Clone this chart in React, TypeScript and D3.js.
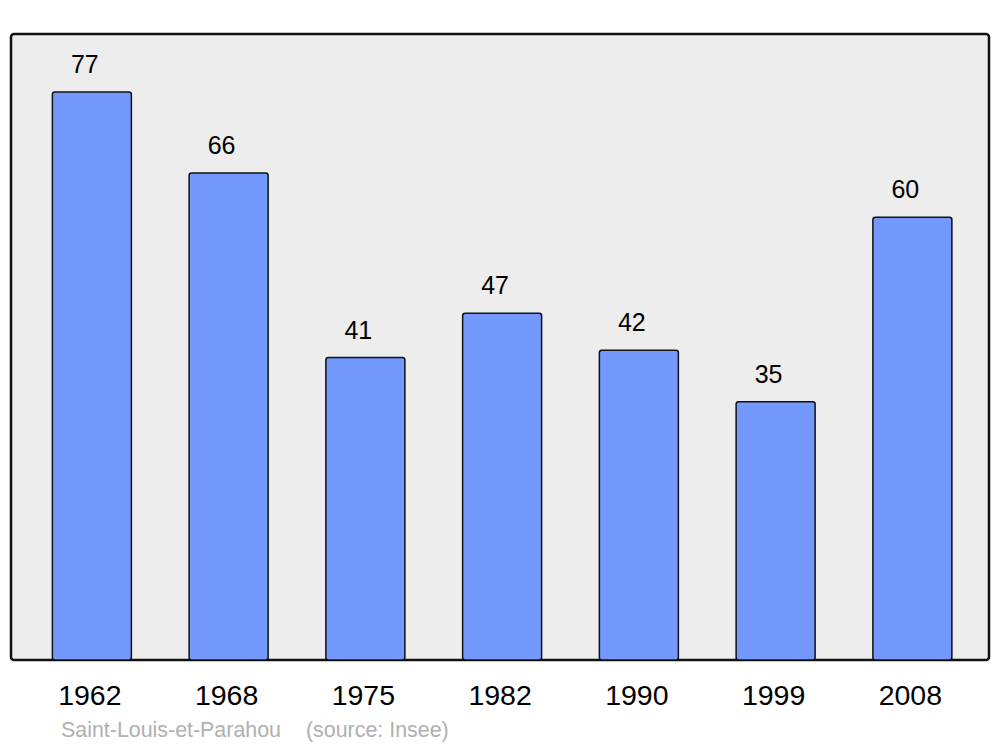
import React from "react";
import * as d3 from "d3";

const years = ["1962", "1968", "1975", "1982", "1990", "1999", "2008"];
const population = [77, 66, 41, 47, 42, 35, 60];
const yMax = 84.85;
const commune = "Saint-Louis-et-Parahou";
const source = "(source: Insee)";

export default function App() {
  const W = 1000, H = 747;
  const left = 11, right = 989, top = 34, bottom = 660;
  const x = d3.scaleBand<string>().domain(years).range([23.5, 980.75]).padding(0);
  const y = d3.scaleLinear().domain([0, yMax]).range([bottom, top]);
  const bw = 79;
  return (
    <svg width={W} height={H} style={{ position: "absolute", left: 0, top: 0 }} fontFamily="Liberation Sans, Arial, sans-serif">
      <rect x={0} y={0} width={W} height={H} fill="#ffffff" />
      <rect x={left} y={top} width={right - left} height={bottom - top} fill="#ededed" stroke="#111" strokeWidth={2.5} rx={3} />
      {years.map((yr, i) => {
        const cx = (x(yr) as number) + x.bandwidth() / 2;
        const yt = y(population[i]);
        return (
          <g key={yr}>
            <rect x={cx - bw / 2} y={yt} width={bw} height={bottom - yt} fill="#7399ff" stroke="#111" strokeWidth={1.5} rx={2.5} />
            <text x={cx - 7} y={yt - 19} textAnchor="middle" fontSize={25} fill="#000">{population[i]}</text>
            <text x={cx - 2} y={705} textAnchor="middle" fontSize={28.5} fill="#000">{yr}</text>
          </g>
        );
      })}
      <text x={61} y={737} fontSize={21.4} fill="#b0b0b0">{commune}</text>
      <text x={306} y={737} fontSize={21.4} fill="#b0b0b0">{source}</text>
    </svg>
  );
}
